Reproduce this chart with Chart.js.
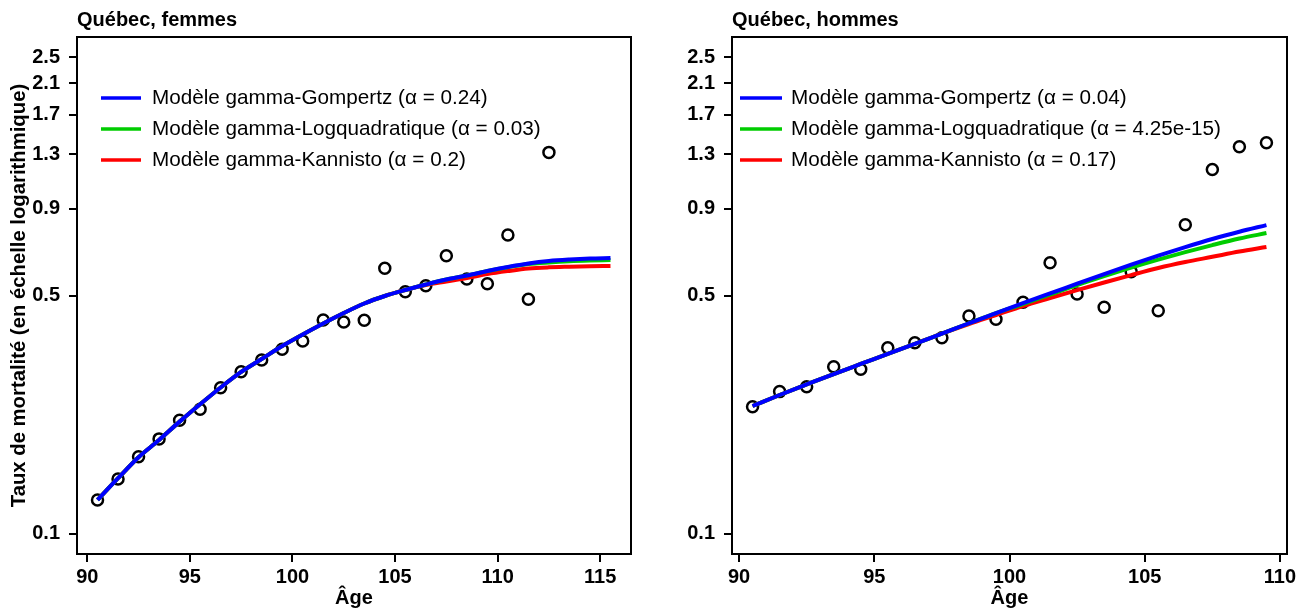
<!DOCTYPE html>
<html>
<head>
<meta charset="utf-8">
<script src="https://cdn.jsdelivr.net/npm/chart.js@4"></script>
<style>
  body { margin: 0; background: #fff; }
  #wrap { position: relative; width: 1314px; height: 610px; }
  canvas { position: absolute; top: 0; }
</style>
</head>
<body>
<div id="wrap">
  <canvas id="femmes" width="657" height="610" style="left:0"></canvas>
  <canvas id="hommes" width="657" height="610" style="left:657px"></canvas>
</div>
<script>
// ages (curves and observations)
const agesF = [90.5, 91.5, 92.5, 93.5, 94.5, 95.5, 96.5, 97.5, 98.5, 99.5, 100.5, 101.5, 102.5,
  103.5, 104.5, 105.5, 106.5, 107.5, 108.5, 109.5, 110.5, 111.5, 112.5, 113.5, 114.5, 115.5];
const agesObsF = [90.5, 91.5, 92.5, 93.5, 94.5, 95.5, 96.5, 97.5, 98.5, 99.5, 100.5, 101.5, 102.5,
  103.5, 104.5, 105.5, 106.5, 107.5, 108.5, 109.5, 110.5, 111.5, 112.5];
const agesH = [90.5, 91.5, 92.5, 93.5, 94.5, 95.5, 96.5, 97.5, 98.5, 99.5, 100.5, 101.5, 102.5,
  103.5, 104.5, 105.5, 106.5, 107.5, 108.5, 109.5];

// Québec, femmes
const obsF = [0.1258, 0.1449, 0.1685, 0.1900, 0.2155, 0.2320, 0.2685, 0.2992, 0.3238, 0.3480, 0.3681,
  0.4242, 0.4185, 0.4233, 0.6015, 0.5135, 0.5348, 0.6549, 0.5596, 0.5420, 0.7531, 0.4879, 1.3163];
const gompertzF = [0.1258, 0.1457, 0.1679, 0.1886, 0.2135, 0.2401, 0.2689, 0.2987, 0.3260, 0.3558,
  0.3847, 0.4143, 0.4447, 0.4743, 0.4988, 0.5194, 0.5390, 0.5576, 0.5727, 0.5904, 0.6067, 0.6211,
  0.6317, 0.6381, 0.6425, 0.6447];
const logquadF = [0.1258, 0.1457, 0.1679, 0.1886, 0.2135, 0.2401, 0.2689, 0.2987, 0.3260, 0.3558,
  0.3847, 0.4143, 0.4447, 0.4743, 0.4988, 0.5194, 0.5390, 0.5576, 0.5727, 0.5904, 0.6060, 0.6190,
  0.6260, 0.6310, 0.6340, 0.6360];
const kannistoF = [0.1258, 0.1457, 0.1679, 0.1886, 0.2135, 0.2401, 0.2689, 0.2987, 0.3260, 0.3558,
  0.3847, 0.4143, 0.4447, 0.4743, 0.4988, 0.5194, 0.5372, 0.5501, 0.5631, 0.5785, 0.5904, 0.6006,
  0.6055, 0.6080, 0.6100, 0.6113];
const labelsF = ["Modèle gamma-Gompertz (α = 0.24)", "Modèle gamma-Logquadratique (α = 0.03)",
  "Modèle gamma-Kannisto (α = 0.2)"];

// Québec, hommes
const obsH = [0.2362, 0.2615, 0.2704, 0.3095, 0.3041, 0.3518, 0.3639, 0.3763, 0.4358, 0.4262, 0.4780,
  0.6248, 0.5057, 0.4621, 0.5879, 0.4518, 0.8075, 1.1730, 1.3670, 1.4050];
const gompertzH = [0.2373, 0.2556, 0.2745, 0.2945, 0.3152, 0.3372, 0.3610, 0.3870, 0.4150, 0.4447,
  0.4757, 0.5079, 0.5420, 0.5785, 0.6165, 0.6550, 0.6940, 0.7330, 0.7700, 0.8055];
const logquadH = [0.2373, 0.2556, 0.2745, 0.2945, 0.3152, 0.3372, 0.3610, 0.3870, 0.4150, 0.4447,
  0.4725, 0.5038, 0.5372, 0.5707, 0.6046, 0.6381, 0.6712, 0.7037, 0.7355, 0.7632];
const kannistoH = [0.2373, 0.2556, 0.2745, 0.2945, 0.3152, 0.3372, 0.3610, 0.3870, 0.4129, 0.4387,
  0.4662, 0.4921, 0.5190, 0.5465, 0.5745, 0.6026, 0.6275, 0.6500, 0.6735, 0.6943];
const labelsH = ["Modèle gamma-Gompertz (α = 0.04)", "Modèle gamma-Logquadratique (α = 4.25e-15)",
  "Modèle gamma-Kannisto (α = 0.17)"];

const yTicks = [0.1, 0.5, 0.9, 1.3, 1.7, 2.1, 2.5];
const xTicksF = [90, 95, 100, 105, 110, 115];
const xTicksH = [90, 95, 100, 105, 110];

const colors = ["#0000FF", "#00CC00", "#FF0000"];

Chart.defaults.font.family = "'Liberation Sans', Arial, sans-serif";
Chart.defaults.font.size = 20;
Chart.defaults.color = "#000";

const toXY = (xs, ys) => ys.map((y, i) => ({ x: xs[i], y: y }));

// box around the plot, like R's box()
const framePlugin = {
  id: "frame",
  afterDraw(chart) {
    const { ctx, chartArea: a } = chart;
    ctx.save();
    ctx.strokeStyle = "#000";
    ctx.lineWidth = 2;
    ctx.strokeRect(a.left, a.top, a.right - a.left, a.bottom - a.top);
    ctx.restore();
  },
};

// legend drawn inside the plot, without box
const rLegend = {
  id: "rLegend",
  afterDraw(chart, args, opts) {
    const { ctx, chartArea: a } = chart;
    const items = chart.data.datasets.filter((d) => d.inLegend);
    ctx.save();
    ctx.font = "20.7px 'Liberation Sans', Arial, sans-serif";
    ctx.textBaseline = "middle";
    ctx.fillStyle = "#000";
    items.forEach((d, i) => {
      const y = a.top + opts.top + i * opts.step;
      ctx.strokeStyle = d.borderColor;
      ctx.lineWidth = 3.5;
      ctx.beginPath();
      ctx.moveTo(a.left + opts.lineStart, y);
      ctx.lineTo(a.left + opts.lineEnd, y);
      ctx.stroke();
      ctx.fillText(d.label, a.left + opts.textStart, y);
    });
    ctx.restore();
  },
};

function makePanel(id, title, ages, agesObs, obs, curves, labels, xMin, xMax, xTicks, opts) {
  const datasets = curves.map((c, i) => ({
    label: labels[i],
    data: toXY(ages, c),
    showLine: true,
    borderColor: colors[i],
    borderWidth: 4,
    pointRadius: 0,
    tension: 0.4,
    cubicInterpolationMode: "monotone",
    inLegend: true,
    order: i + 1,
  }));
  datasets.push({
    label: "Observé",
    data: toXY(agesObs, obs),
    showLine: false,
    pointRadius: 5.5,
    pointBorderWidth: 2.5,
    pointBorderColor: "#000",
    pointBackgroundColor: "rgba(0,0,0,0)",
    inLegend: false,
    order: 10,
  });

  return new Chart(document.getElementById(id), {
    type: "scatter",
    data: { datasets: datasets },
    plugins: [framePlugin, rLegend],
    options: {
      responsive: false,
      animation: false,
      layout: { padding: { left: 0, right: opts.padRight, top: 0, bottom: 0 } },
      plugins: {
        legend: { display: false },
        tooltip: { enabled: false },
        title: {
          display: true,
          text: title,
          align: "start",
          fullSize: false,
          font: { size: 20, weight: "bold" },
          padding: { top: 8, bottom: 5 },
        },
        rLegend: opts.legend,
      },
      scales: {
        x: {
          type: "linear",
          min: xMin,
          max: xMax,
          border: { display: false },
          grid: { drawOnChartArea: false, drawTicks: true, tickLength: 8, color: "#000", lineWidth: 2 },
          ticks: {
            font: { size: 20, weight: "bold" },
            padding: 3,
            autoSkip: false,
            maxRotation: 0,
            callback: (v) => String(v),
          },
          afterBuildTicks: (s) => { s.ticks = xTicks.map((v) => ({ value: v })); },
          afterFit: (s) => { s.height = 56; },
          title: {
            display: true,
            text: "Âge",
            font: { size: 20, weight: "bold" },
            padding: { top: 0, bottom: 0 },
          },
        },
        y: {
          type: "logarithmic",
          min: 0.0873,
          max: 2.87,
          border: { display: false },
          grid: { drawOnChartArea: false, drawTicks: true, tickLength: 8, color: "#000", lineWidth: 2 },
          ticks: {
            font: { size: 20, weight: "bold" },
            padding: 9,
            autoSkip: false,
            callback: (v) => String(v),
          },
          afterBuildTicks: (s) => { s.ticks = yTicks.map((v) => ({ value: v })); },
          afterFit: (s) => { s.width = opts.yWidth; },
          title: {
            display: opts.yTitle,
            text: "Taux de mortalité (en échelle logarithmique)",
            font: { size: 20.3, weight: "bold" },
            padding: { top: 7, bottom: 0 },
          },
        },
      },
    },
  });
}

makePanel("femmes", "Québec, femmes", agesF, agesObsF, obsF,
  [gompertzF, logquadF, kannistoF], labelsF, 89.5, 116.5, xTicksF, {
    padRight: 26,
    yWidth: 77,
    yTitle: true,
    legend: { top: 61, step: 31, lineStart: 24, lineEnd: 64, textStart: 75 },
  });

makePanel("hommes", "Québec, hommes", agesH, agesH, obsH,
  [gompertzH, logquadH, kannistoH], labelsH, 89.74, 110.26, xTicksH, {
    padRight: 27,
    yWidth: 75,
    yTitle: false,
    legend: { top: 61, step: 31, lineStart: 8, lineEnd: 50, textStart: 59 },
  });
</script>
</body>
</html>
